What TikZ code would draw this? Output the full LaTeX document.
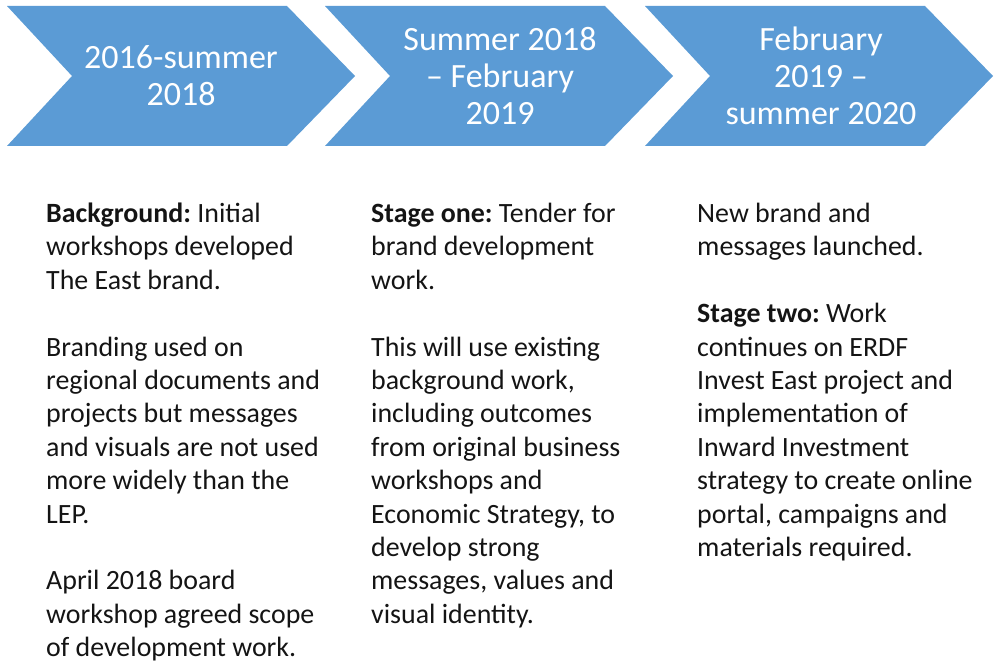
\documentclass[tikz,border=0pt]{standalone}
\usepackage{fontspec}
\setmainfont{Carlito}
\frenchspacing
\definecolor{chevblue}{RGB}{91,155,213}
\definecolor{bodytext}{RGB}{20,20,20}
\tikzset{
  chev/.style={fill=chevblue, draw=none},
  chevlabel/.style={text=white, align=center, inner sep=0pt, font=\fontsize{34}{37}\selectfont},
  coltext/.style={text=bodytext, align=left, anchor=north west, inner sep=0pt, font=\fontsize{27.9}{33.4}\selectfont}
}
\newcommand{\chevshape}[1]{%
  \fill[chev] (#1,6) -- ++(280,0) -- ++(68,70) -- ++(-68,70) -- ++(-280,0) -- ++(65,-70) -- cycle;}
\begin{document}
\begin{tikzpicture}[x=1pt,y=-1pt]
\useasboundingbox (0,0) rectangle (996,663);
\chevshape{7}
\chevshape{325}
\chevshape{645}
\node[chevlabel] (c1) at (181,76) {2016-summer\\2018};
\node[chevlabel] (c2) at (500,76) {Summer 2018\\– February\\2019};
\node[chevlabel] (c3) at (821,76) {February\\2019 –\\summer 2020};
\node[coltext] (t1) at (46,199) {\strut\textbf{Background:} Initial\\workshops developed\\The East brand.\\[33.4pt]Branding used on\\regional documents and\\projects but messages\\and visuals are not used\\more widely than the\\LEP.\\[33.4pt]April 2018 board\\workshop agreed scope\\of development work.};
\node[coltext] (t2) at (371,199) {\strut\textbf{Stage one:} Tender for\\brand development\\work.\\[33.4pt]This will use existing\\background work,\\including outcomes\\from original business\\workshops and\\Economic Strategy, to\\develop strong\\messages, values and\\visual identity.};
\node[coltext] (t3) at (697,199) {\strut New brand and\\messages launched.\\[33.4pt]\textbf{Stage two:} Work\\continues on ERDF\\Invest East project and\\implementation of\\Inward Investment\\strategy to create online\\portal, campaigns and\\materials required.};
\end{tikzpicture}
\end{document}
